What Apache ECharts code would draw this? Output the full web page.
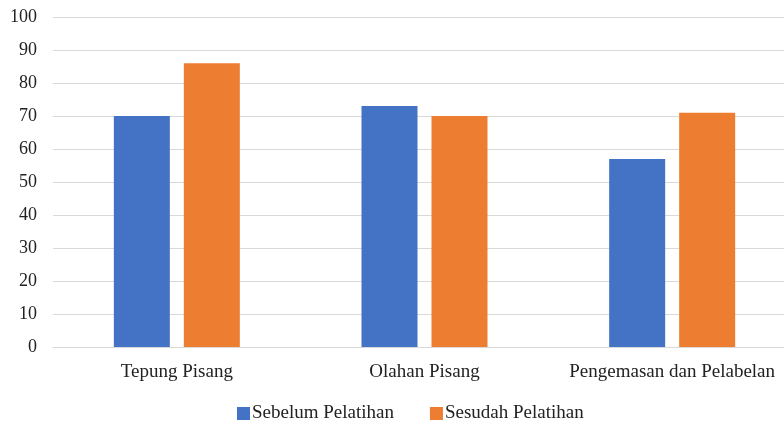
<!DOCTYPE html>
<html><head><meta charset="utf-8">
<script src="https://cdn.jsdelivr.net/npm/echarts@6/dist/echarts.min.js"></script>
<style>html,body{margin:0;padding:0;background:#fff}#c{width:784px;height:423px}</style>
</head><body><div id="c"></div>
<script>
const categories = ['Tepung Pisang', 'Olahan Pisang', 'Pengemasan dan Pelabelan'];
const sebelum = [70, 73, 57];
const sesudah = [86, 70, 71];
const seriesNames = ['Sebelum Pelatihan', 'Sesudah Pelatihan'];
const font = '"Liberation Serif", "Times New Roman", serif';
const chart = echarts.init(document.getElementById('c'), null, {renderer: 'canvas'});
chart.setOption({
  animation: false,
  textStyle: {fontFamily: font},
  grid: {left: 53, right: -12, top: 17, bottom: 76, containLabel: false, outerBoundsMode: 'none'},
  legend: {
    top: 404, left: 237, padding: 0, itemWidth: 13, itemHeight: 13, itemGap: 36, itemStyle: {borderWidth: 0},
    icon: 'rect',
    textStyle: {fontFamily: font, fontSize: 19, color: '#222', padding: [0, 0, 0, -3]},
    data: seriesNames
  },
  xAxis: {
    type: 'category', data: categories,
    axisLine: {lineStyle: {color: '#d9d9d9', width: 1}},
    axisTick: {show: false},
    axisLabel: {fontFamily: font, fontSize: 19, color: '#222', margin: 16, interval: 0}
  },
  yAxis: {
    type: 'value', min: 0, max: 100, interval: 10,
    axisLine: {show: false}, axisTick: {show: false},
    splitLine: {lineStyle: {color: '#d9d9d9', width: 1}},
    axisLabel: {fontFamily: font, fontSize: 18, color: '#222', margin: 16}
  },
  series: [
    {name: seriesNames[0], type: 'bar', data: sebelum, barWidth: 56, barGap: '25%', itemStyle: {color: '#4472c4'}},
    {name: seriesNames[1], type: 'bar', data: sesudah, barWidth: 56, barGap: '25%', itemStyle: {color: '#ed7d31'}}
  ]
});
</script></body></html>
